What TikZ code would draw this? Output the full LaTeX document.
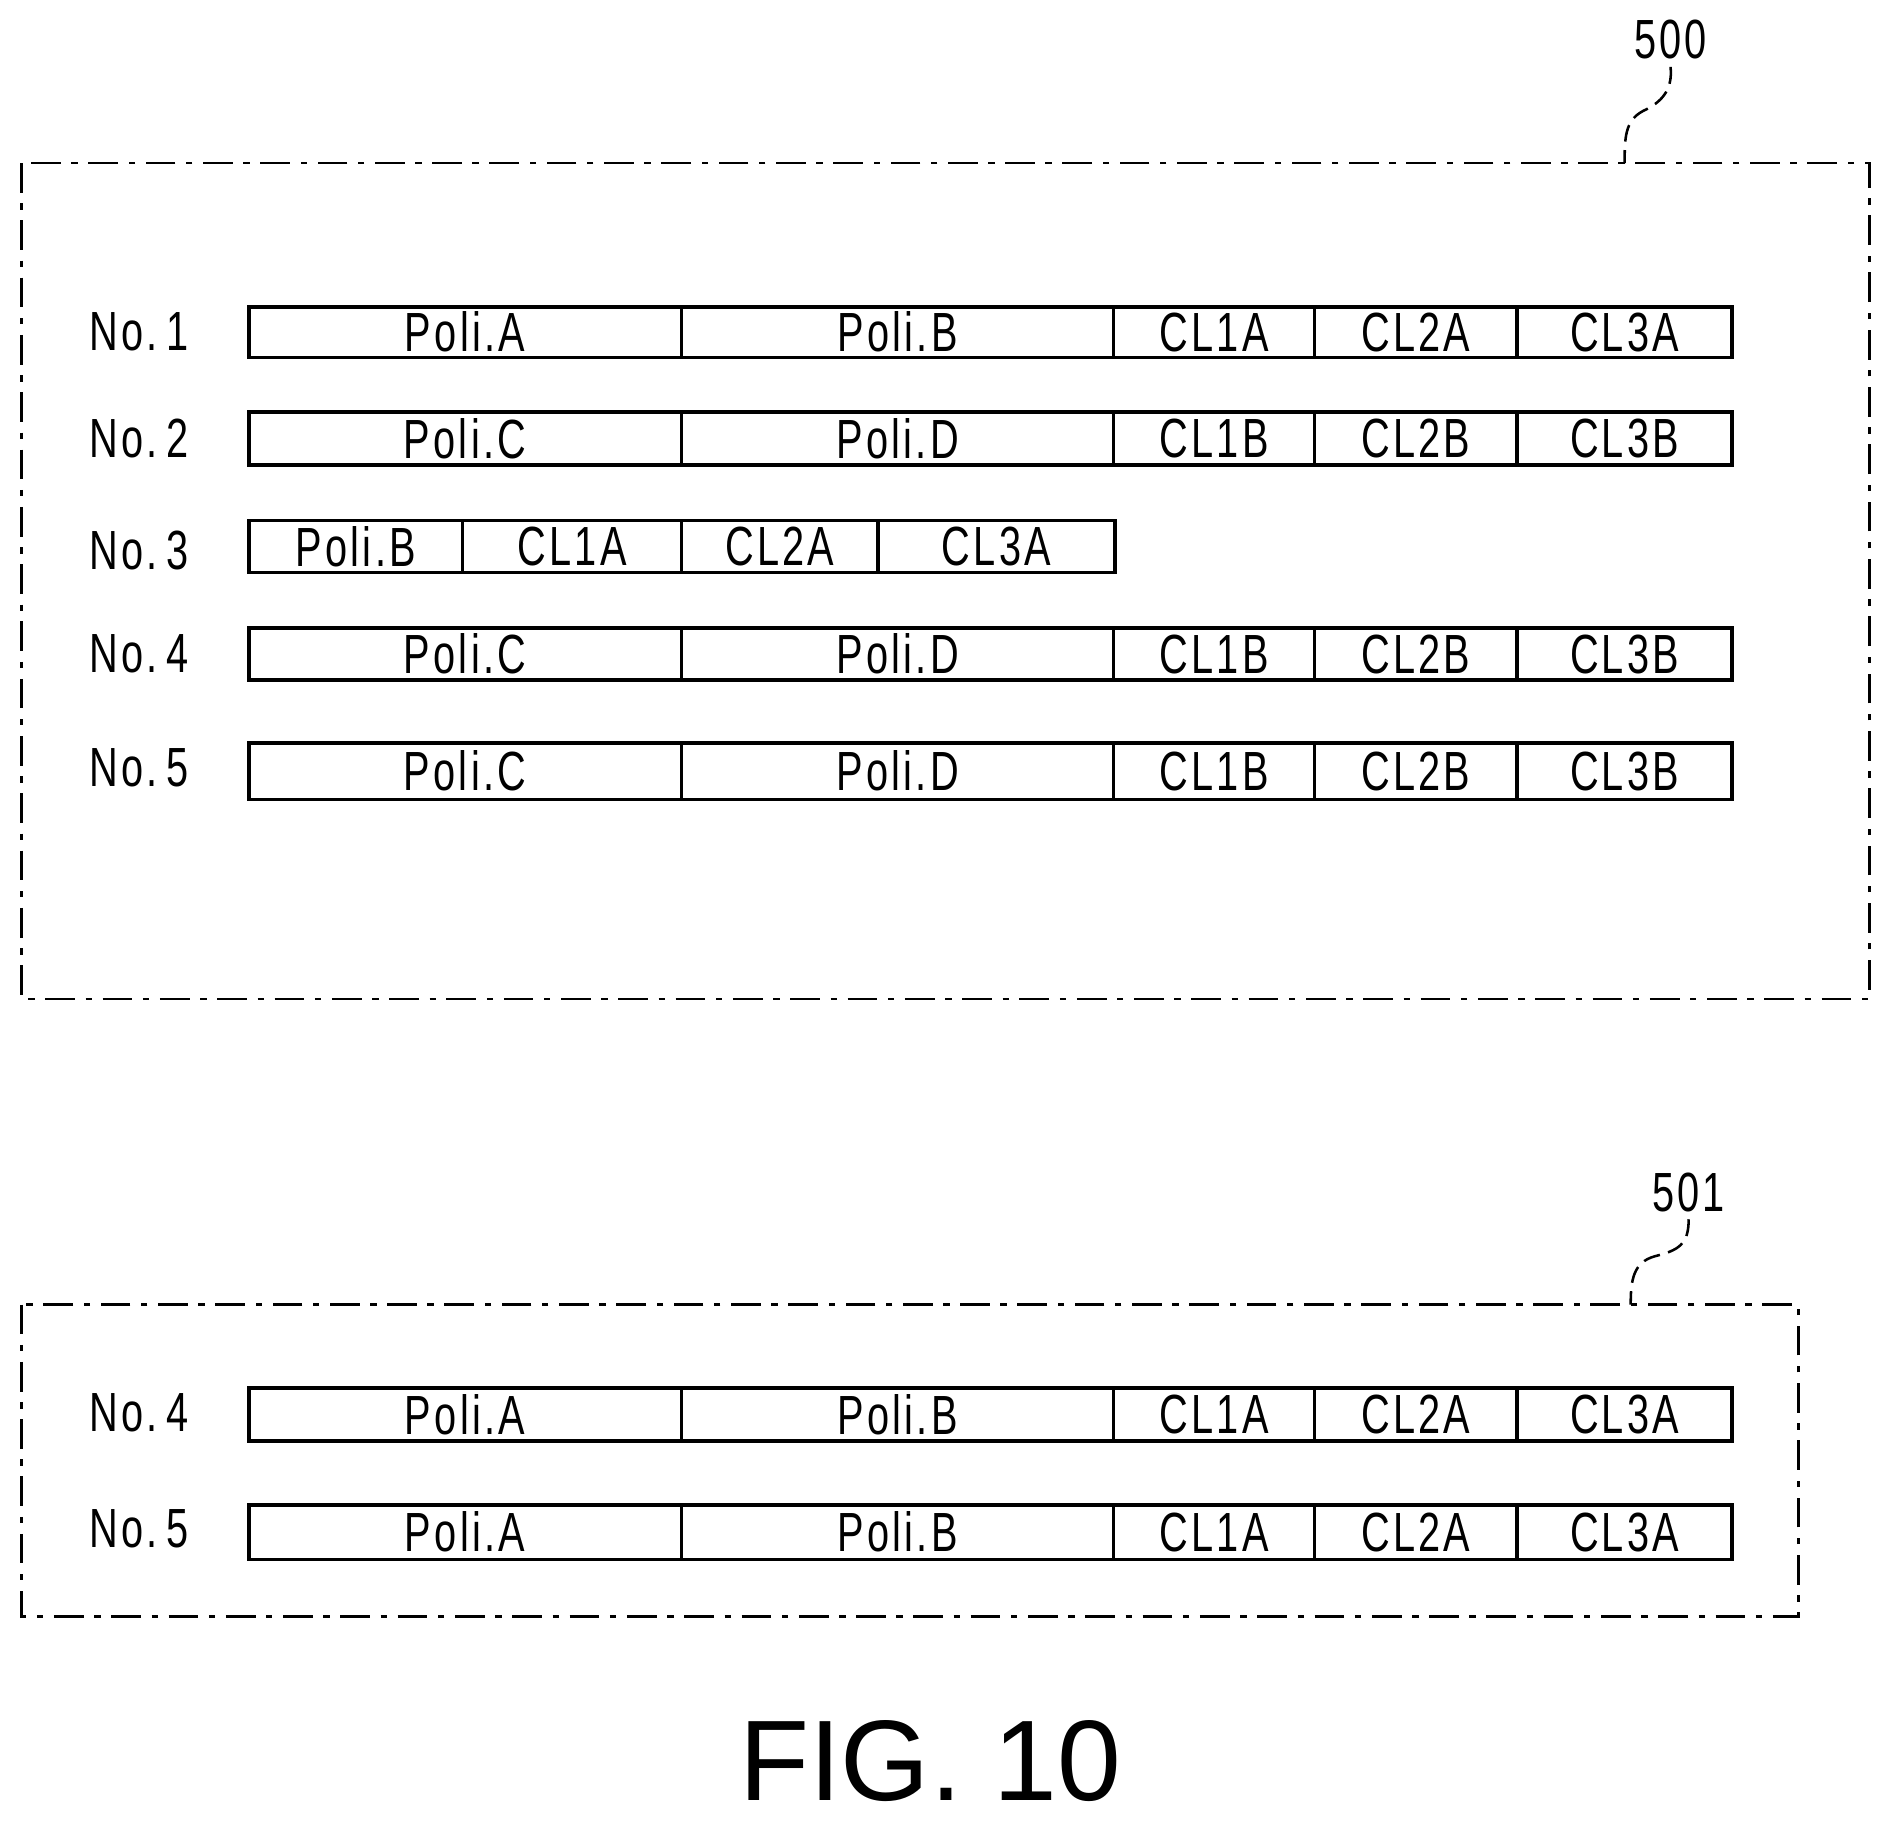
\documentclass[tikz,border=0pt]{standalone}
\usepackage{fontspec}
\setmainfont{Liberation Sans}
\newfontfamily\narrowf[FakeStretch=0.72,LetterSpace=6]{Liberation Sans}
\begin{document}
\begin{tikzpicture}[x=0.02cm,y=-0.02cm,
  cell/.style={draw,line width=1.6pt},
  lbl/.style={font=\narrowf\fontsize{26}{30}\selectfont},
  frame/.style={draw,line width=1.3pt,dash pattern=on 14pt off 5pt on 3pt off 5pt},
  lead/.style={line width=1.2pt,dash pattern=on 8pt off 4pt}]
\useasboundingbox (0,0) rectangle (1568,1512);
\newcommand\myrow[4]{% name, y1, y2, list of x/text pairs
  \foreach \xa/\xb/\t [count=\i] in {#4}{
    \draw[cell] (\xa,#2) rectangle (\xb,#3);
    \node[lbl] (#1c\i) at ({(\xa+\xb)/2},{(#2+#3)/2}) {\t};}}
\draw[frame] (18,135) rectangle (1548,827);
\node[font=\narrowf\fontsize{26}{28}\selectfont] (n500) at (1383,33) {500};
\coordinate (f500) at (1345,135);
\draw[lead] (n500.south) .. controls (1385,75) and (1375,85) .. (1360,92) .. controls (1345,100) and (1345,115) .. (f500);
\node[lbl] (r1) at (115,275) {No.\,1};
\node[lbl] (r2) at (115,363) {No.\,2};
\node[lbl] (r3) at (115,456) {No.\,3};
\node[lbl] (r4) at (115,541) {No.\,4};
\node[lbl] (r5) at (115,636) {No.\,5};
\myrow{a}{254}{296}{206/564/Poli.A,564/922/Poli.B,922/1088/CL1A,1088/1256/CL2A,1256/1434/CL3A}
\myrow{b}{341}{385}{206/564/Poli.C,564/922/Poli.D,922/1088/CL1B,1088/1256/CL2B,1256/1434/CL3B}
\myrow{c}{431}{474}{206/383/Poli.B,383/564/CL1A,564/727/CL2A,727/923/CL3A}
\myrow{d}{520}{563}{206/564/Poli.C,564/922/Poli.D,922/1088/CL1B,1088/1256/CL2B,1256/1434/CL3B}
\myrow{e}{615}{662}{206/564/Poli.C,564/922/Poli.D,922/1088/CL1B,1088/1256/CL2B,1256/1434/CL3B}
\draw[frame] (18,1080) rectangle (1489,1338);
\node[font=\narrowf\fontsize{26}{28}\selectfont] (n501) at (1398,987) {501};
\coordinate (f501) at (1350,1080);
\draw[lead] (n501.south) .. controls (1398,1030) and (1390,1035) .. (1370,1040) .. controls (1352,1045) and (1350,1060) .. (f501);
\node[lbl] (s4) at (115,1170) {No.\,4};
\node[lbl] (s5) at (115,1266) {No.\,5};
\myrow{f}{1149}{1193}{206/564/Poli.A,564/922/Poli.B,922/1088/CL1A,1088/1256/CL2A,1256/1434/CL3A}
\myrow{g}{1246}{1291}{206/564/Poli.A,564/922/Poli.B,922/1088/CL1A,1088/1256/CL2A,1256/1434/CL3A}
\node[font=\fontsize{54}{58}\selectfont] (fig) at (770,1458) {FIG. 10};
\end{tikzpicture}
\end{document}
